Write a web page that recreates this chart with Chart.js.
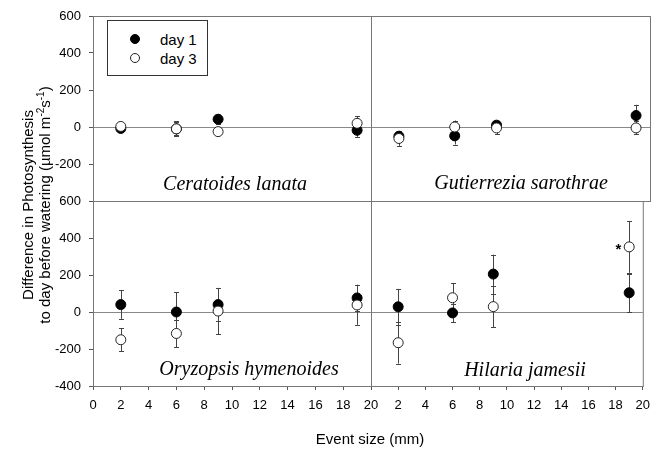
<!DOCTYPE html>
<html>
<head>
<meta charset="utf-8">
<script src="https://cdn.jsdelivr.net/npm/chart.js@4.4.0/dist/chart.umd.min.js"></script>
<style>
  body { margin: 0; background: #fff; }
  #wrap { position: relative; width: 658px; height: 452px; font-family: "Liberation Sans", Arial, sans-serif; color: #000; }
  #wrap canvas { position: absolute; left: 0; top: 0; }
  .sp { position: absolute; transform: translate(-50%, -50%); font: italic 20px "Liberation Serif", "Times New Roman", serif; white-space: nowrap; }
  #ytitle { position: absolute; left: 36px; top: 205px; width: 380px; transform: translate(-50%, -50%) rotate(-90deg); text-align: center; font-size: 15px; line-height: 17px; }
  #ytitle sup { font-size: 10px; vertical-align: 6px; line-height: 0; }
  #xtitle { position: absolute; left: 370px; top: 438px; transform: translate(-50%, -50%); font-size: 15px; white-space: nowrap; }
  #legend { position: absolute; left: 107px; top: 20px; width: 99px; height: 54px; border: 1px solid #333; background: #fff; }
  .row { position: absolute; left: 0; font-size: 15px; line-height: 15px; }
  .dot { position: absolute; width: 10px; height: 10px; border-radius: 50%; box-sizing: border-box; }
</style>
</head>
<body>
<div id="wrap">
  <canvas id="c0" width="658" height="452"></canvas>
  <canvas id="c1" width="658" height="452"></canvas>
  <canvas id="c2" width="658" height="452"></canvas>
  <canvas id="c3" width="658" height="452"></canvas>
  <div id="ytitle">Difference in Photosynthesis<br>to day before watering (&micro;mol m<sup>-2</sup>s<sup>-1</sup>)</div>
  <div id="xtitle">Event size (mm)</div>
  <div id="legend">
    <div class="dot" style="left:22px;top:13px;background:#000;border:1px solid #000"></div>
    <div class="row" style="left:52px;top:11px">day 1</div>
    <div class="dot" style="left:22px;top:32px;background:#fff;border:1px solid #222"></div>
    <div class="row" style="left:52px;top:30px">day 3</div>
  </div>
  <div class="sp" style="left:235px;top:183px">Ceratoides lanata</div>
  <div class="sp" style="left:521px;top:182px">Gutierrezia sarothrae</div>
  <div class="sp" style="left:249px;top:368px">Oryzopsis hymenoides</div>
  <div class="sp" style="left:525px;top:369px">Hilaria jamesii</div>
</div>
<script>
// datos
const eventSize = [2, 6, 9, 19];
const xTickValues = [0, 2, 4, 6, 8, 10, 12, 14, 16, 18, 20];
const yTickValues = [-400, -200, 0, 200, 400, 600];

const ceratoidesDay1 = [-8, -10, 42, -18];
const ceratoidesDay1Err = [10, 35, 25, 35];
const ceratoidesDay3 = [3, -10, -25, 20];
const ceratoidesDay3Err = [8, 40, 12, 38];

const gutierreziaDay1 = [-50, -48, 10, 62];
const gutierreziaDay1Err = [30, 47, 25, 58];
const gutierreziaDay3 = [-62, 0, -5, -5];
const gutierreziaDay3Err = [40, 35, 35, 35];

const oryzopsisDay1 = [40, 0, 40, 76];
const oryzopsisDay1Err = [77, 108, 90, 72];
const oryzopsisDay3 = [-150, -116, 5, 38];
const oryzopsisDay3Err = [63, 75, 125, 107];

const hilariaDay1 = [28, -5, 205, 104];
const hilariaDay1Err = [97, 50, 105, 104];
const hilariaDay3 = [-166, 77, 29, 352];
const hilariaDay3Err = [113, 80, 110, 140];

// marca de significancia (hilaria, day 3, 19 mm)
const starAt = { x: 18.2, y: 352 };

const panels = [
  { id: "c0", d1: ceratoidesDay1, e1: ceratoidesDay1Err, d3: ceratoidesDay3, e3: ceratoidesDay3Err, left: 93, right: 371, top: 16, bottom: 201, col: 0, row: 0 },
  { id: "c1", d1: gutierreziaDay1, e1: gutierreziaDay1Err, d3: gutierreziaDay3, e3: gutierreziaDay3Err, left: 371, right: 650, top: 16, bottom: 201, col: 1, row: 0 },
  { id: "c2", d1: oryzopsisDay1, e1: oryzopsisDay1Err, d3: oryzopsisDay3, e3: oryzopsisDay3Err, left: 93, right: 371, top: 201, bottom: 386, col: 0, row: 1 },
  { id: "c3", d1: hilariaDay1, e1: hilariaDay1Err, d3: hilariaDay3, e3: hilariaDay3Err, left: 371, right: 650, top: 201, bottom: 386, col: 1, row: 1, star: true }
];

const Y_W = 40, X_H = 40;
const tickFont = { family: "'Liberation Sans', Arial, sans-serif", size: 13 };

// barras de error + marco del panel
const errorBars = {
  id: "errorBars",
  beforeDatasetsDraw(chart) {
    const { ctx, chartArea: a, scales: { x, y } } = chart;
    ctx.save();
    ctx.strokeStyle = "#777";
    ctx.lineWidth = 1;
    ctx.strokeRect(a.left + 0.5, a.top + 0.5, a.right - a.left, a.bottom - a.top);
    ctx.strokeStyle = "#444";
    chart.data.datasets.forEach((ds) => {
      ds.data.forEach((p, i) => {
        const e = ds.errors[i];
        const px = Math.round(x.getPixelForValue(p.x)) + 0.5;
        const y1 = y.getPixelForValue(p.y + e);
        const y2 = y.getPixelForValue(p.y - e);
        ctx.beginPath();
        ctx.moveTo(px, y1); ctx.lineTo(px, y2);
        ctx.moveTo(px - 2.5, Math.round(y1) + 0.5); ctx.lineTo(px + 2.5, Math.round(y1) + 0.5);
        ctx.moveTo(px - 2.5, Math.round(y2) + 0.5); ctx.lineTo(px + 2.5, Math.round(y2) + 0.5);
        ctx.stroke();
      });
    });
    ctx.restore();
  },
  afterDatasetsDraw(chart, args, opts) {
    if (!opts.star) return;
    const { ctx, scales: { x, y } } = chart;
    ctx.save();
    ctx.fillStyle = "#000";
    ctx.font = "bold 15px 'Liberation Sans', Arial, sans-serif";
    ctx.textAlign = "center";
    ctx.textBaseline = "middle";
    ctx.fillText("*", x.getPixelForValue(starAt.x), y.getPixelForValue(starAt.y) + 3);
    ctx.restore();
  }
};

for (const p of panels) {
  const pts = (vals) => eventSize.map((s, i) => ({ x: s, y: vals[i] }));
  new Chart(document.getElementById(p.id), {
    type: "scatter",
    data: {
      datasets: [
        { label: "day 1", data: pts(p.d1), errors: p.e1, order: 2,
          pointRadius: 5, backgroundColor: "#000", borderColor: "#000", borderWidth: 1 },
        { label: "day 3", data: pts(p.d3), errors: p.e3, order: 1,
          pointRadius: 5, backgroundColor: "#fff", borderColor: "#222", borderWidth: 1 }
      ]
    },
    options: {
      responsive: false,
      animation: false,
      events: [],
      layout: {
        padding: { left: p.left - Y_W, right: 658 - p.right, top: p.top, bottom: 452 - p.bottom - X_H }
      },
      plugins: {
        legend: { display: false },
        tooltip: { enabled: false },
        errorBars: { star: !!p.star }
      },
      scales: {
        x: {
          type: "linear", min: 0, max: 20,
          afterFit: (s) => { s.height = X_H; },
          afterBuildTicks: (s) => { s.ticks = xTickValues.map((v) => ({ value: v })); },
          border: { display: false },
          grid: { display: p.row === 1, drawOnChartArea: false, tickLength: 4, tickColor: "#555" },
          ticks: {
            display: p.row === 1, color: "#000", font: tickFont, padding: 8, maxRotation: 0, autoSkip: false,
            callback: (v) => (p.col === 1 && v === 0 ? "" : v)
          }
        },
        y: {
          type: "linear", min: -400, max: 600,
          afterFit: (s) => { s.width = Y_W; },
          afterBuildTicks: (s) => { s.ticks = yTickValues.map((v) => ({ value: v })); },
          border: { display: false },
          grid: {
            drawTicks: p.col === 0, tickLength: 4,
            color: (c) => (c.tick && c.tick.value === 0 ? "#888" : "rgba(0,0,0,0)"),
            tickColor: "#555"
          },
          ticks: {
            display: p.col === 0, color: "#000", font: tickFont, padding: 8, autoSkip: false,
            callback: (v) => (p.row === 0 && v === -400 ? "" : v)
          }
        }
      }
    },
    plugins: [errorBars]
  });
}
</script>
</body>
</html>
